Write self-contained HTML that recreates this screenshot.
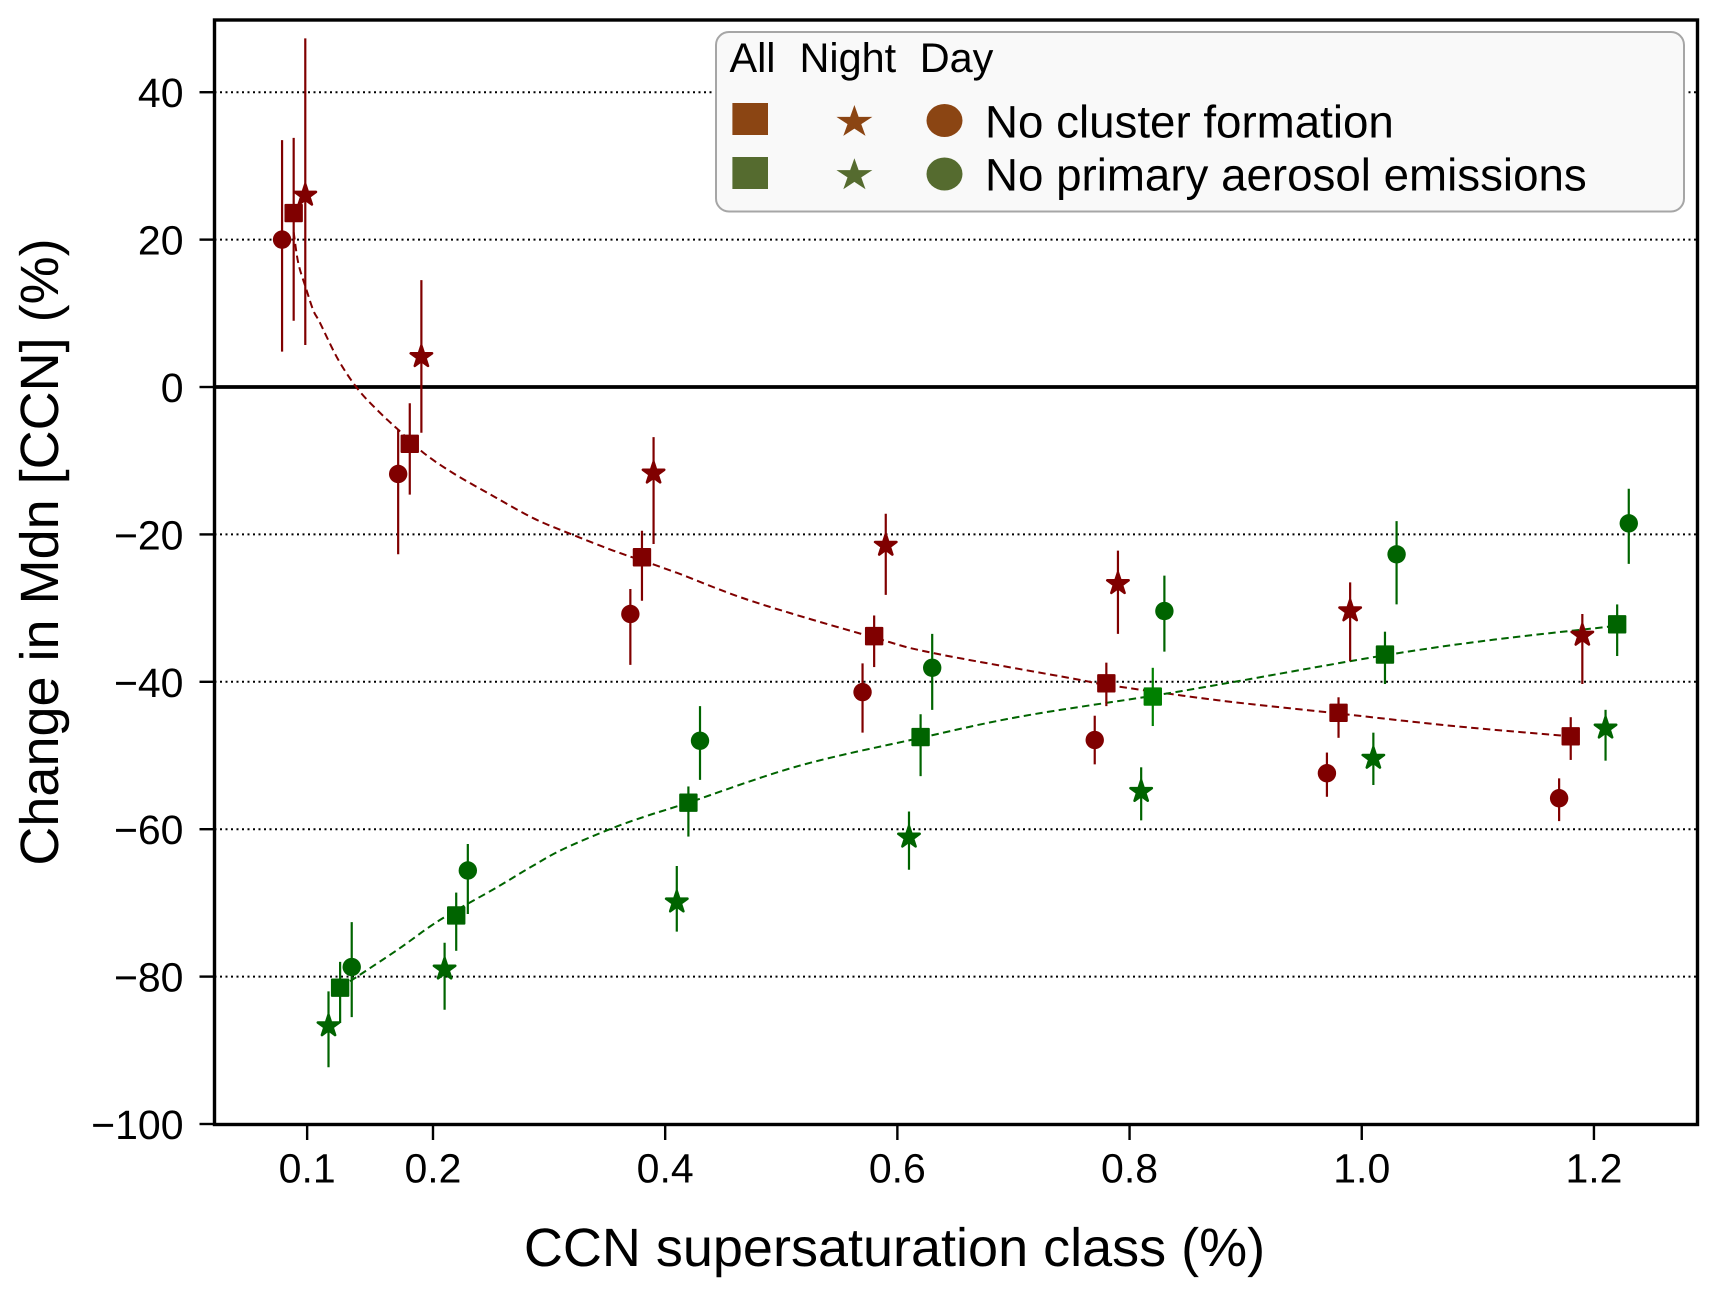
<!DOCTYPE html>
<html lang="en">
<head>
<meta charset="utf-8">
<title>Change in median CCN by supersaturation class</title>
<style>
html,body{margin:0;padding:0;background:#fff;}
svg{display:block;font-family:"Liberation Sans",Arial,sans-serif;text-rendering:geometricPrecision;}
</style>
</head>
<body>
<svg id="chart" xmlns="http://www.w3.org/2000/svg" width="1717" height="1295" viewBox="0 0 1717 1295">
  <rect x="0" y="0" width="1717" height="1295" fill="#ffffff"/>
  <g id="grid"></g>
  <g id="curves"></g>
  <g id="marks"></g>
  <g id="xticks"></g>
  <g id="yticks"></g>
  <rect x="214.5" y="20" width="1483" height="1104.5" fill="none" stroke="#000" stroke-width="3.4"/>
  <text x="894.5" y="1266" font-size="54" text-anchor="middle" fill="#000">CCN supersaturation class (%)</text>
  <text transform="translate(58,552) rotate(-90)" font-size="54" text-anchor="middle" fill="#000">Change in Mdn [CCN] (%)</text>
  <g>
    <rect x="716" y="32" width="968" height="179.5" rx="13" ry="13" fill="#f9f9f9" stroke="#a6a6a6" stroke-width="2"/>
    <text x="729.5" y="72" font-size="41.4" fill="#000">All</text>
    <text x="799.5" y="72" font-size="41.4" fill="#000">Night</text>
    <text x="919.7" y="72" font-size="41.4" fill="#000">Day</text>
    <rect x="732.4" y="103" width="35.6" height="32" fill="#8B4513"/>
    <polygon id="legendStarRed" fill="#8B4513"/>
    <ellipse cx="944.5" cy="120.5" rx="18" ry="16.5" fill="#8B4513"/>
    <text x="985" y="137.5" font-size="45.7" fill="#000">No cluster formation</text>
    <rect x="732.4" y="157" width="35.6" height="32" fill="#556B2F"/>
    <polygon id="legendStarGreen" fill="#556B2F"/>
    <ellipse cx="944.5" cy="174" rx="18" ry="16.5" fill="#556B2F"/>
    <text x="985" y="190.5" font-size="45.7" fill="#000">No primary aerosol emissions</text>
  </g>
</svg>
<script>
const xTickValues = [0.0916, 0.2, 0.4, 0.6, 0.8, 1.0, 1.2];
const xTickLabels = ["0.1", "0.2", "0.4", "0.6", "0.8", "1.0", "1.2"];
const yTickValues = [40, 20, 0, -20, -40, -60, -80, -100];
const yTickLabels = ["40", "20", "0", "\u221220", "\u221240", "\u221260", "\u221280", "\u2212100"];

const redDayX = [0.07, 0.17, 0.37, 0.57, 0.77, 0.97, 1.17];
const redDayY = [20, -11.8, -30.8, -41.4, -47.9, -52.4, -55.8];
const redDayHi = [33.5, -5.7, -27.4, -37.5, -44.6, -49.6, -53.1];
const redDayLo = [4.8, -22.7, -37.7, -46.9, -51.2, -55.6, -58.9];

const redAllX = [0.08, 0.18, 0.38, 0.58, 0.78, 0.98, 1.18];
const redAllY = [23.6, -7.7, -23.1, -33.8, -40.2, -44.2, -47.4];
const redAllHi = [33.8, -2.2, -19.5, -31, -37.4, -42.1, -44.8];
const redAllLo = [9, -14.6, -29, -38, -43.3, -47.6, -50.6];

const redNightX = [0.09, 0.19, 0.39, 0.59, 0.79, 0.99, 1.19];
const redNightY = [26, 4.1, -11.7, -21.5, -26.7, -30.4, -33.7];
const redNightHi = [47.3, 14.5, -6.8, -17.2, -22.2, -26.5, -30.8];
const redNightLo = [5.7, -6.2, -21.3, -28.2, -33.5, -37.2, -40.3];

const greenNightX = [0.11, 0.21, 0.41, 0.61, 0.81, 1.01, 1.21];
const greenNightY = [-86.7, -79, -69.9, -61.1, -54.9, -50.4, -46.3];
const greenNightHi = [-82, -75.4, -65, -57.6, -51.6, -46.9, -43.8];
const greenNightLo = [-92.3, -84.5, -73.9, -65.5, -58.8, -54, -50.7];

const greenAllX = [0.12, 0.22, 0.42, 0.62, 0.82, 1.02, 1.22];
const greenAllY = [-81.5, -71.7, -56.4, -47.5, -42, -36.3, -32.2];
const greenAllHi = [-78, -68.6, -54.2, -44.4, -38.1, -33.2, -29.5];
const greenAllLo = [-86.3, -76.5, -61, -52.8, -46, -40.3, -36.5];

const greenDayX = [0.13, 0.23, 0.43, 0.63, 0.83, 1.03, 1.23];
const greenDayY = [-78.7, -65.6, -48, -38.1, -30.4, -22.7, -18.5];
const greenDayHi = [-72.6, -62, -43.3, -33.5, -25.6, -18.2, -13.8];
const greenDayLo = [-85.5, -71.5, -53.3, -43.8, -35.9, -29.5, -24];

const redFitX = [0.08, 0.084, 0.0906, 0.0969, 0.1027, 0.1184, 0.1357, 0.1544, 0.1687, 0.1916, 0.2175, 0.2519, 0.2864, 0.318, 0.3553, 0.3792, 0.4099, 0.4756, 0.58, 0.63, 0.7525, 0.78, 0.876, 0.98, 1.079, 1.18];
const redFitY = [21, 16.8, 13.4, 10.4, 8.7, 3.7, -0.37, -3.5, -5.6, -8.9, -11.7, -14.8, -17.8, -19.9, -22.2, -23.5, -25.2, -29.1, -34, -36.07, -39.6, -40.4, -42.5, -44.3, -46, -47.4];
const greenFitX = [0.12, 0.1308, 0.17, 0.1974, 0.22, 0.2549, 0.2835, 0.3122, 0.3539, 0.3841, 0.4199, 0.5153, 0.62, 0.7065, 0.82, 0.876, 1.02, 1.113, 1.22];
const greenFitY = [-81.5, -80.4, -76.3, -73.2, -71, -67.9, -65.2, -62.7, -59.9, -58.2, -56.4, -51.4, -47.6, -44.7, -41.9, -40.4, -36.4, -34.3, -32.4];

const xDomain = [0.0118, 1.2892];
const yDomain = [-100, 49.8];
const plotLeft = 214.5, plotRight = 1697.5, plotTop = 20, plotBottom = 1124;
function xScale(v) { return plotLeft + (v - xDomain[0]) / (xDomain[1] - xDomain[0]) * (plotRight - plotLeft); }
function yScale(v) { return plotBottom - (v - yDomain[0]) / (yDomain[1] - yDomain[0]) * (plotBottom - plotTop); }

const NS = "http://www.w3.org/2000/svg";
function mk(tag, attrs, parent) {
  const el = document.createElementNS(NS, tag);
  for (const k in attrs) el.setAttribute(k, attrs[k]);
  parent.appendChild(el);
  return el;
}
function starPoints(cx, cy, rx, ry) {
  const pts = [];
  for (let i = 0; i < 10; i++) {
    const r = i % 2 === 0 ? 1 : 0.381966;
    const a = -Math.PI / 2 + i * Math.PI / 5;
    pts.push((cx + rx * r * Math.cos(a)).toFixed(2) + "," + (cy + ry * r * Math.sin(a)).toFixed(2));
  }
  return pts.join(" ");
}
function smoothPath(px, py) {
  let d = "M" + px[0].toFixed(2) + " " + py[0].toFixed(2);
  for (let i = 0; i < px.length - 1; i++) {
    const x0 = px[Math.max(i - 1, 0)], y0 = py[Math.max(i - 1, 0)];
    const x1 = px[i], y1 = py[i], x2 = px[i + 1], y2 = py[i + 1];
    const x3 = px[Math.min(i + 2, px.length - 1)], y3 = py[Math.min(i + 2, py.length - 1)];
    d += "C" + (x1 + (x2 - x0) / 6).toFixed(2) + " " + (y1 + (y2 - y0) / 6).toFixed(2) + " " +
         (x2 - (x3 - x1) / 6).toFixed(2) + " " + (y2 - (y3 - y1) / 6).toFixed(2) + " " +
         x2.toFixed(2) + " " + y2.toFixed(2);
  }
  return d;
}

const gridG = document.getElementById("grid");
yTickValues.forEach(function (v) {
  if (v === -100) return;
  const isZero = v === 0;
  const line = mk("line", {
    x1: plotLeft, x2: plotRight, y1: yScale(v), y2: yScale(v),
    stroke: "#000",
    "stroke-width": isZero ? 3.8 : 2,
    "stroke-dasharray": isZero ? "none" : "2 3.5"
  }, gridG);
  
  
});

const xTicksG = document.getElementById("xticks");
xTickValues.forEach(function (v, i) {
  const px = xScale(v);
  const t = mk("line", { x1: px, x2: px, y1: plotBottom, y2: plotBottom + 16, stroke: "#000", "stroke-width": 2.4 }, xTicksG);
  
  
  const lab = mk("text", { x: px, y: 1182.5, "font-size": 41, "text-anchor": "middle", fill: "#000" }, xTicksG);
  lab.textContent = xTickLabels[i];
  
  
});

const yTicksG = document.getElementById("yticks");
yTickValues.forEach(function (v, i) {
  const py = yScale(v);
  const t = mk("line", { x1: plotLeft - 15, x2: plotLeft, y1: py, y2: py, stroke: "#000", "stroke-width": 2.4 }, yTicksG);
  
  
  const lab = mk("text", { x: 183.5, y: py + 15, "font-size": 41, "text-anchor": "end", fill: "#000" }, yTicksG);
  lab.textContent = yTickLabels[i];
  
  
});

const curvesG = document.getElementById("curves");
const redCurve = mk("path", {
  d: smoothPath(redFitX.map(xScale), redFitY.map(yScale)),
  fill: "none", stroke: "#800000", "stroke-width": 2, "stroke-dasharray": "7.4 4.4"
}, curvesG);


const greenCurve = mk("path", {
  d: smoothPath(greenFitX.map(xScale), greenFitY.map(yScale)),
  fill: "none", stroke: "#006400", "stroke-width": 2, "stroke-dasharray": "7.4 4.4"
}, curvesG);



const marksG = document.getElementById("marks");
function drawSeries(xs, ys, his, los, color, shape, accentIndex, accentColor) {
  xs.forEach(function (xv, i) {
    const c = i === accentIndex ? accentColor : color;
    const px = xScale(xv), py = yScale(ys[i]);
    const bar = mk("line", { x1: px, x2: px, y1: yScale(his[i]), y2: yScale(los[i]), stroke: c, "stroke-width": 2.2 }, marksG);
    
    
    let m;
    if (shape === "circle") {
      m = mk("ellipse", { cx: px, cy: py, rx: 9.2, ry: 9.2, fill: c }, marksG);
    } else if (shape === "square") {
      m = mk("rect", { x: px - 8.2, y: py - 8.2, width: 16.4, height: 16.4, fill: c, stroke: c, "stroke-width": 2, "stroke-linejoin": "round" }, marksG);
    } else {
      m = mk("polygon", { points: starPoints(px, py, 11.2, 11.2), fill: c, stroke: c, "stroke-width": 2.6, "stroke-linejoin": "round" }, marksG);
    }
    
    
  });
}
drawSeries(redDayX, redDayY, redDayHi, redDayLo, "#800000", "circle", -1, "");
drawSeries(redAllX, redAllY, redAllHi, redAllLo, "#800000", "square", -1, "");
drawSeries(redNightX, redNightY, redNightHi, redNightLo, "#800000", "star", -1, "");
drawSeries(greenNightX, greenNightY, greenNightHi, greenNightLo, "#006400", "star", -1, "");
drawSeries(greenAllX, greenAllY, greenAllHi, greenAllLo, "#006400", "square", 4, "#008000");
drawSeries(greenDayX, greenDayY, greenDayHi, greenDayLo, "#006400", "circle", -1, "");

document.getElementById("legendStarRed").setAttribute("points", starPoints(854.4, 122.1, 18.9, 17.1));
document.getElementById("legendStarGreen").setAttribute("points", starPoints(854.4, 175.4, 18.9, 17.1));
</script>
</body>
</html>
